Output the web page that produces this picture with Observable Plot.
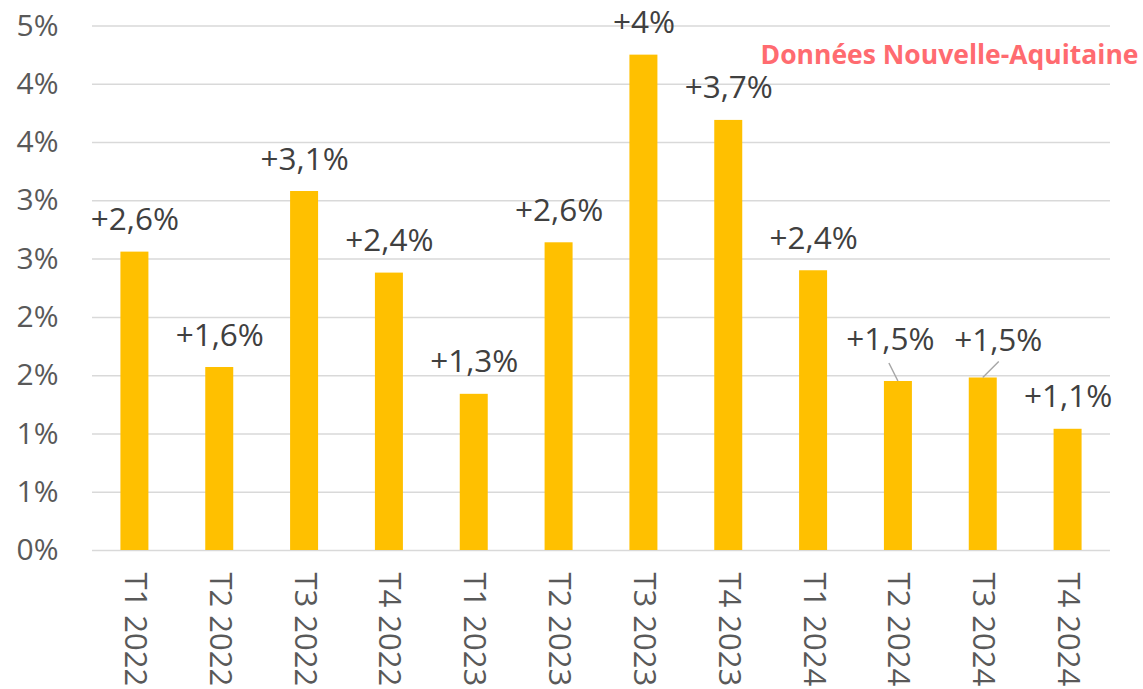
<!DOCTYPE html>
<html>
<head>
<meta charset="utf-8">
<script src="https://cdn.jsdelivr.net/npm/d3@7"></script>
<script src="https://cdn.jsdelivr.net/npm/@observablehq/plot@0.6"></script>
<style>
  html, body { margin: 0; padding: 0; background: #ffffff; }
</style>
</head>
<body>
<div id="chart"></div>
<script>
// Data
const categories = ["T1 2022","T2 2022","T3 2022","T4 2022","T1 2023","T2 2023","T3 2023","T4 2023","T1 2024","T2 2024","T3 2024","T4 2024"];
const values = [2.56, 1.57, 3.08, 2.38, 1.34, 2.64, 4.25, 3.69, 2.40, 1.45, 1.48, 1.04];
const valueLabels = ["+2,6%","+1,6%","+3,1%","+2,4%","+1,3%","+2,6%","+4%","+3,7%","+2,4%","+1,5%","+1,5%","+1,1%"];
const yTicks = [0, 0.5, 1, 1.5, 2, 2.5, 3, 3.5, 4, 4.5];
const yTickLabels = ["0%","1%","1%","2%","2%","3%","3%","4%","4%","5%"];
const annotation = ["Données Nouvelle-Aquitaine"];

const data = categories.map((c, i) => ({cat: c, value: values[i], label: valueLabels[i]}));
const nudgedLeft = ["T2 2024"];
const nudgedRight = ["T3 2024"];
const plain = data.filter(d => !nudgedLeft.includes(d.cat) && !nudgedRight.includes(d.cat));

const FONT = "'Open Sans', 'Noto Sans', sans-serif";

function leaders(index, scales) {
  const g = d3.create("svg:g").attr("stroke", "#a6a6a6").attr("stroke-width", 1.5);
  const bw = scales.x.bandwidth();
  const seg = [
    ...data.filter(d => nudgedLeft.includes(d.cat)).map(d => ({d, sx: -9, sy: -18})),
    ...data.filter(d => nudgedRight.includes(d.cat)).map(d => ({d, sx: 16, sy: -16}))
  ];
  for (const {d, sx, sy} of seg) {
    const cx = scales.x(d.cat) + bw / 2;
    const cy = scales.y(d.value);
    g.append("line").attr("x1", cx + sx).attr("y1", cy + sy).attr("x2", cx).attr("y2", cy);
  }
  return g.node();
}

const chart = Plot.plot({
  width: 1143,
  height: 689,
  marginLeft: 92,
  marginRight: 33,
  marginTop: 25.5,
  marginBottom: 139,
  style: {fontFamily: FONT, background: "#ffffff", overflow: "visible"},
  x: {domain: categories, paddingInner: 0.67, paddingOuter: 0.335, round: false, label: null},
  y: {domain: [0, 4.5], label: null},
  marks: [
    Plot.ruleY(yTicks, {stroke: "#d9d9d9", strokeWidth: 1.5}),
    Plot.barY(data, {x: "cat", y: "value", fill: "#FFC000"}),
    Plot.axisY({ticks: yTicks, tickFormat: (d, i) => yTickLabels[i], tickSize: 0, tickPadding: 34, fontSize: 30, color: "#595959", label: null}),
    Plot.axisX({tickRotate: 90, tickSize: 0, tickPadding: 22, fontSize: 31, color: "#595959", label: null}),
    Plot.text(plain, {x: "cat", y: "value", text: "label", lineAnchor: "bottom", dy: -22, fontSize: 31.5, fill: "#404040"}),
    Plot.text(data.filter(d => nudgedLeft.includes(d.cat)), {x: "cat", y: "value", text: "label", lineAnchor: "bottom", dy: -31, dx: -8, fontSize: 31.5, fill: "#404040"}),
    Plot.text(data.filter(d => nudgedRight.includes(d.cat)), {x: "cat", y: "value", text: "label", lineAnchor: "bottom", dy: -27, dx: 15, fontSize: 31.5, fill: "#404040"}),
    leaders,
    Plot.text(annotation, {frameAnchor: "top-right", text: d => d, textAnchor: "end", lineAnchor: "bottom", dx: 28, dy: 37.5, fontSize: 26.5, fontWeight: "bold", fill: "#FF6B70"})
  ]
});
document.getElementById("chart").appendChild(chart);
</script>
</body>
</html>
